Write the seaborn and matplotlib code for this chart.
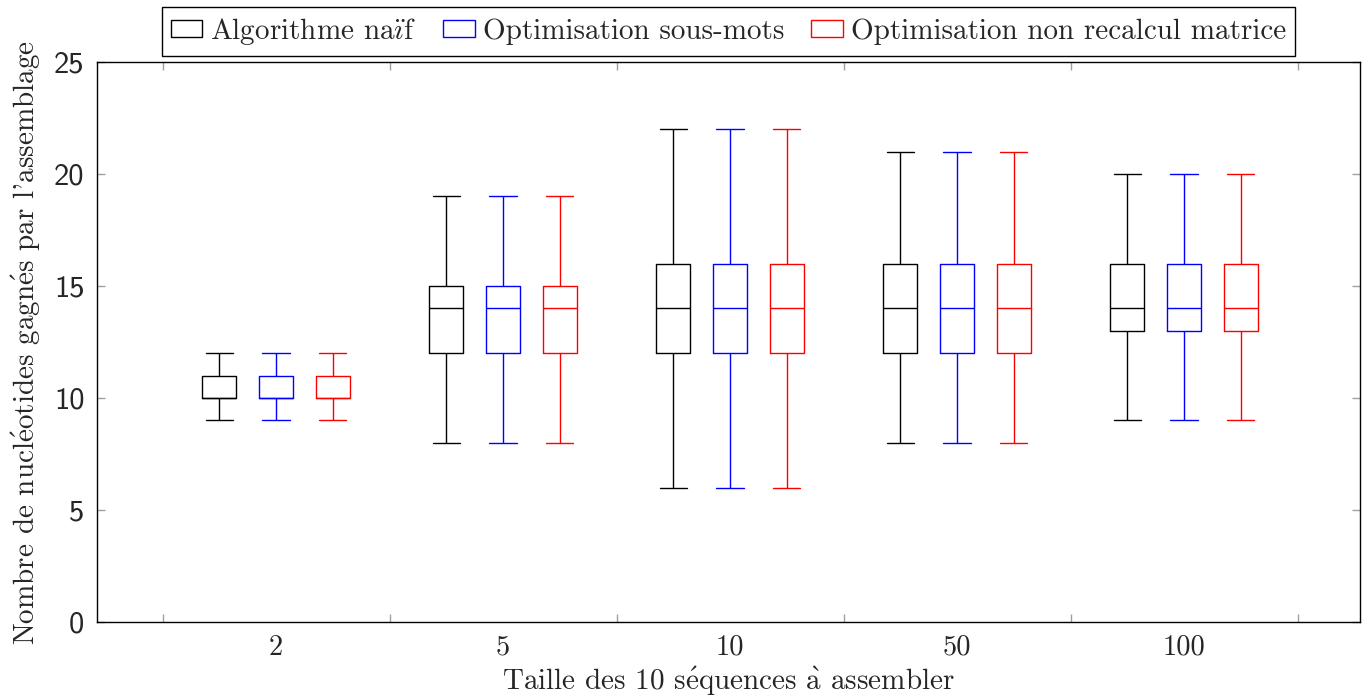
import matplotlib
matplotlib.use("Agg")
import numpy as np
import pandas as pd
import matplotlib.pyplot as plt
from matplotlib.patches import Patch
from matplotlib.ticker import FixedLocator
import seaborn as sns

# Sequence sizes on the x axis
sizes = ["2", "5", "10", "50", "100"]
methods = ["Algorithme naïf", "Optimisation sous-mots",
           "Optimisation non recalcul matrice"]
# Display forms of the labels: accents are typeset with mathtext in Computer Modern
method_labels = [r"Algorithme na$\ddot{\mathrm{\imath}}$f", "Optimisation sous-mots",
                 "Optimisation non recalcul matrice"]
colors = ["black", "blue", "red"]

# Five-number summaries per size: minimum, lower quartile, median, upper quartile, maximum
naif_stats = [[9, 10, 10, 11, 12], [8, 12, 14, 15, 19], [6, 12, 14, 16, 22],
              [8, 12, 14, 16, 21], [9, 13, 14, 16, 20]]
sous_mots_stats = [[9, 10, 10, 11, 12], [8, 12, 14, 15, 19], [6, 12, 14, 16, 22],
                   [8, 12, 14, 16, 21], [9, 13, 14, 16, 20]]
non_recalcul_stats = [[9, 10, 10, 11, 12], [8, 12, 14, 15, 19], [6, 12, 14, 16, 22],
                      [8, 12, 14, 16, 21], [9, 13, 14, 16, 20]]

yticks = [0, 5, 10, 15, 20, 25]

xlabel = r"Taille des 10 s$\acute{\mathrm{e}}$quences $\grave{\mathrm{a}}$ assembler"
ylabel = (r"Nombre de nucl$\acute{\mathrm{e}}$otides gagn$\acute{\mathrm{e}}$s "
          r"par l'assemblage")

rows = []
for method, stats in zip(methods, [naif_stats, sous_mots_stats, non_recalcul_stats]):
    for size, summary in zip(sizes, stats):
        for v in summary:
            rows.append({"size": size, "method": method, "value": v})
df = pd.DataFrame(rows)

sns.set_theme(style="white")
plt.rcParams["font.family"] = ["cmr10", "DejaVu Serif"]
plt.rcParams["mathtext.fontset"] = "cm"
plt.rcParams["axes.formatter.use_mathtext"] = True

fig = plt.figure(figsize=(13.67, 6.98), dpi=100)
ax = fig.add_axes([97 / 1367, 1 - 622 / 698, 1263 / 1367, 560 / 698])

sns.boxplot(data=df, x="size", y="value", hue="method", order=sizes,
            hue_order=methods, palette=colors, fill=False, width=0.75, gap=0.4,
            whis=(0, 100), linewidth=1.0, legend=False, capwidths=0.12, ax=ax)

ax.set_xlim(-0.789, 4.775)
ax.set_ylim(0, 25)
ax.set_yticks(yticks)
ax.set_yticklabels([str(t) for t in yticks], family="cmss10", fontsize=22)
ax.set_xticks(range(len(sizes)))
ax.set_xticklabels(sizes, fontsize=20.5)
ax.xaxis.set_minor_locator(FixedLocator(np.arange(-0.5, 5.0, 1.0)))

ax.tick_params(axis="x", which="major", length=0, pad=9)
ax.tick_params(axis="x", which="minor", direction="in", length=6, width=1,
               color="#a0a0a0", top=True, bottom=True)
ax.tick_params(axis="y", which="major", direction="in", length=6, width=1,
               color="#a0a0a0", left=True, right=True, pad=9)

for s in ax.spines.values():
    s.set_color("black")
    s.set_linewidth(1.0)

ax.set_xlabel(xlabel, fontsize=21, labelpad=3)
ax.set_ylabel(ylabel, fontsize=21, labelpad=8)

handles = [Patch(facecolor="none", edgecolor=c, linewidth=1.0, label=m)
           for m, c in zip(method_labels, colors)]
leg = ax.legend(handles=handles, loc="lower center", bbox_to_anchor=(0.5, 1.0),
                ncol=3, frameon=True, fancybox=False, edgecolor="black",
                fontsize=21, handlelength=1.07, handleheight=0.55,
                handletextpad=0.28, columnspacing=0.93, borderaxespad=0.22,
                borderpad=0.3)
leg.get_frame().set_linewidth(1.0)
leg.get_frame().set_alpha(1.0)

fig.savefig("out.png", dpi=100)
